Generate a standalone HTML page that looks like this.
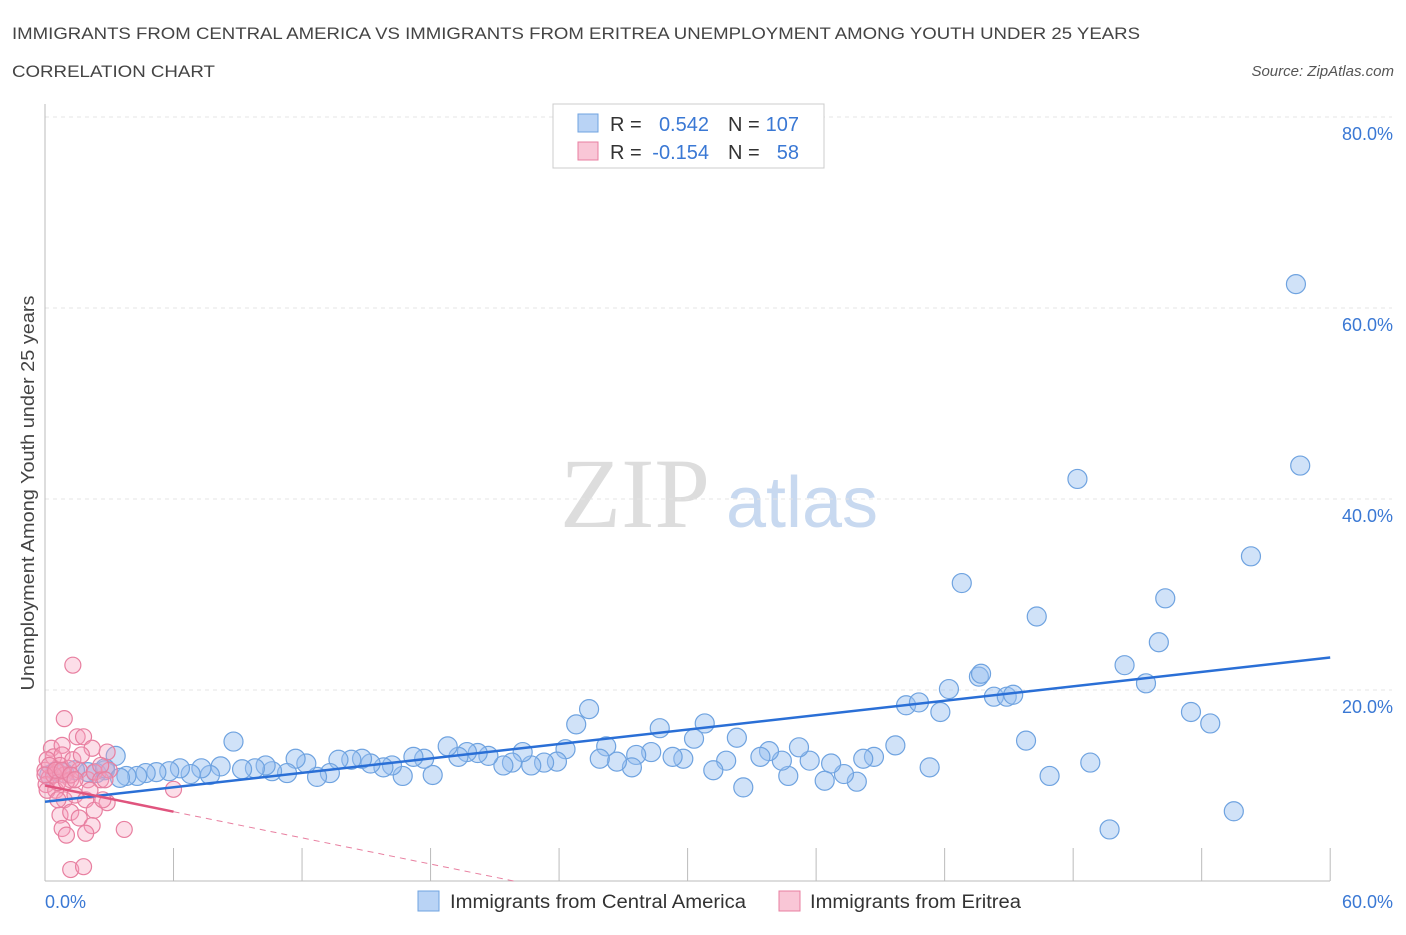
<!DOCTYPE html>
<html><head><meta charset="utf-8"><style>
body{margin:0;background:#fff;font-family:"Liberation Sans",sans-serif}
</style></head><body>
<svg width="1406" height="930" xmlns="http://www.w3.org/2000/svg">
<text x="12" y="39" font-size="17" fill="#444" textLength="1128" lengthAdjust="spacingAndGlyphs">IMMIGRANTS FROM CENTRAL AMERICA VS IMMIGRANTS FROM ERITREA UNEMPLOYMENT AMONG YOUTH UNDER 25 YEARS</text>
<text x="12" y="77" font-size="17" fill="#444" textLength="203" lengthAdjust="spacingAndGlyphs">CORRELATION CHART</text>
<text x="1394" y="76" font-size="15" fill="#555" font-style="italic" text-anchor="end">Source: ZipAtlas.com</text>
<text x="635" y="527" font-size="100" fill="#ddd" font-family="Liberation Serif" text-anchor="middle">ZIP</text>
<text x="802" y="527" font-size="72" fill="#c8d9f0" text-anchor="middle">atlas</text>
<g id="grid"></g><g id="axes"></g><g id="lines"></g><g id="pts"></g>
<text x="34" y="493" font-size="18" fill="#444" text-anchor="middle" textLength="395" lengthAdjust="spacingAndGlyphs" transform="rotate(-90 34 493)">Unemployment Among Youth under 25 years</text>
<text x="45" y="908" font-size="18" fill="#3a78d4">0.0%</text>
<text x="1393" y="908" font-size="18" fill="#3a78d4" text-anchor="end">60.0%</text>
<g>
<rect x="553" y="104" width="271" height="64" fill="#fff" stroke="#ccc"/>
<rect x="578" y="114" width="20" height="18" fill="#b9d3f5" stroke="#6fa3e0"/>
<rect x="578" y="142" width="20" height="18" fill="#f9c6d6" stroke="#e87fa0"/>
<text x="610" y="131" font-size="20" fill="#333">R =</text>
<text x="709" y="131" font-size="20" fill="#3a78d4" text-anchor="end">0.542</text>
<text x="728" y="131" font-size="20" fill="#333">N =</text>
<text x="799" y="131" font-size="20" fill="#3a78d4" text-anchor="end">107</text>
<text x="610" y="159" font-size="20" fill="#333">R =</text>
<text x="709" y="159" font-size="20" fill="#3a78d4" text-anchor="end">-0.154</text>
<text x="728" y="159" font-size="20" fill="#333">N =</text>
<text x="799" y="159" font-size="20" fill="#3a78d4" text-anchor="end">58</text>
</g>
<g>
<rect x="418" y="891" width="21" height="20" fill="#b9d3f5" stroke="#6fa3e0"/>
<text x="450" y="908" font-size="19" fill="#333" textLength="296" lengthAdjust="spacingAndGlyphs">Immigrants from Central America</text>
<rect x="779" y="891" width="21" height="20" fill="#f9c6d6" stroke="#e87fa0"/>
<text x="810" y="908" font-size="19" fill="#333" textLength="211" lengthAdjust="spacingAndGlyphs">Immigrants from Eritrea</text>
</g>
</svg>
<script>
const yTicks=[20,40,60,80];
const yTickLabels=["20.0%","40.0%","60.0%","80.0%"];
const xTicks=[0,6,12,18,24,30,36,42,48,54,60];
const blueX=[58.4,58.6,48.2,56.3,42.8,52.3,46.3,52.0,50.4,43.6,43.7,51.4,42.2,44.3,44.9,45.2,40.2,40.8,41.8,53.5,54.4,45.8,46.9,48.8,49.7,55.5,41.3,39.7,38.7,38.2,37.9,37.3,36.7,36.4,35.7,35.2,34.7,34.4,33.8,33.4,32.6,32.3,31.8,31.2,30.8,30.3,29.8,29.3,28.7,28.3,27.6,27.4,26.7,26.2,25.9,25.4,24.8,24.3,23.9,23.3,22.7,22.3,21.8,21.4,20.7,20.2,19.7,19.3,18.8,18.1,17.7,17.2,16.7,16.2,15.8,15.2,14.8,14.3,13.7,13.3,12.7,12.2,11.7,11.3,10.6,10.3,9.8,9.2,8.8,8.2,7.7,7.3,6.8,6.3,5.8,5.2,4.7,4.3,3.8,3.3,2.8,2.4,2.0,1.4,0.9,0.5,0.2,2.8,3.5];
const blueY=[62.5,43.5,42.1,34.0,31.2,29.6,27.7,25.0,22.6,21.4,21.7,20.7,20.1,19.3,19.3,19.5,18.4,18.7,17.7,17.7,16.5,14.7,11.0,12.4,5.4,7.3,11.9,14.2,13.0,12.8,10.4,11.2,12.3,10.5,12.6,14.0,11.0,12.6,13.6,13.0,9.8,15.0,12.6,11.6,16.5,14.9,12.8,13.0,16.0,13.5,13.2,11.9,12.5,14.1,12.8,18.0,16.4,13.8,12.5,12.4,12.1,13.5,12.4,12.1,13.1,13.4,13.5,13.0,14.1,11.1,12.8,13.0,11.0,12.1,11.9,12.3,12.8,12.7,12.7,11.3,10.9,12.3,12.8,11.3,11.5,12.1,11.8,11.7,14.6,12.0,11.1,11.8,11.2,11.8,11.5,11.4,11.3,11.0,11.0,13.1,11.6,11.3,11.4,11.6,11.3,11.5,11.1,11.8,10.8];
const pinkX=[1.3,0.9,1.5,1.8,0.3,0.8,2.2,2.9,0.4,0.8,1.1,0.0,0.2,0.6,0.7,0.9,1.2,1.6,2.0,2.3,2.6,3.0,0.05,0.5,0.9,1.4,1.9,2.3,2.9,0.7,1.2,1.6,2.2,0.8,1.0,1.9,3.7,1.2,1.8,6.0,0.1,0.4,0.6,1.0,0.2,0.0,0.5,0.8,1.2,1.4,0.1,2.1,2.7,0.6,1.3,1.7,2.6,2.8];
const pinkY=[22.6,17.0,15.1,15.1,13.9,14.2,13.9,13.5,13.0,13.2,11.8,11.6,10.8,11.4,12.1,11.1,10.6,11.6,10.6,11.4,10.6,11.6,10.1,9.5,8.5,9.0,8.5,7.4,8.2,6.9,7.2,6.6,5.8,5.5,4.8,5.0,5.4,1.2,1.5,9.6,12.7,11.1,10.3,10.4,12.1,11.1,11.6,11.6,11.1,10.6,9.5,9.5,8.5,8.5,12.7,13.2,12.1,10.6];
const blueTrend=[8.3,23.4];
const pinkTrend=[10.0,-0.457];
const X=v=>45+v*21.42, Y=v=>881-v*9.55;
const NS="http://www.w3.org/2000/svg";
function mk(t,a,p){const e=document.createElementNS(NS,t);for(const k in a)e.setAttribute(k,a[k]);document.getElementById(p).appendChild(e);return e;}
yTicks.forEach((t,i)=>{
 const l=mk('line',{x1:45,x2:1392,y1:Y(t),y2:Y(t),stroke:'#e4e4e4','stroke-dasharray':'4,4'},'grid');
 
 
 const tx=mk('text',{x:1393,y:Y(t)+23,'font-size':18,fill:'#3a78d4','text-anchor':'end'},'grid');tx.textContent=yTickLabels[i];
 
 
});
let a=mk('line',{x1:45,x2:45,y1:104,y2:881,stroke:'#bbb'},'axes');


a=mk('line',{x1:45,x2:1330,y1:881,y2:881,stroke:'#bbb'},'axes');


xTicks.forEach(t=>{const l=mk('line',{x1:X(t),x2:X(t),y1:848,y2:881,stroke:'#bbb'},'axes');
 
 });
blueX.forEach((x,i)=>{const c=mk('circle',{cx:X(x),cy:Y(blueY[i]),r:9.5,fill:'rgba(150,190,240,0.45)',stroke:'#6fa3e0','stroke-width':1.2},'pts');
 
 });
pinkX.forEach((x,i)=>{const c=mk('circle',{cx:X(x),cy:Y(pinkY[i]),r:8,fill:'rgba(245,160,190,0.35)',stroke:'#e87fa0','stroke-width':1.2},'pts');
 
 });
let t=mk('line',{x1:X(0),y1:Y(blueTrend[0]),x2:X(60),y2:Y(blueTrend[1]),stroke:'#2a6fd6','stroke-width':2.5},'pts');


const pe=6,pz=-pinkTrend[0]/pinkTrend[1];
t=mk('line',{x1:X(0),y1:Y(pinkTrend[0]),x2:X(pe),y2:Y(pinkTrend[0]+pinkTrend[1]*pe),stroke:'#e0547e','stroke-width':2.5},'pts');


t=mk('line',{x1:X(pe),y1:Y(pinkTrend[0]+pinkTrend[1]*pe),x2:X(pz),y2:Y(0),stroke:'#e87fa0','stroke-width':1,'stroke-dasharray':'6,5'},'pts');


</script>
</body></html>
